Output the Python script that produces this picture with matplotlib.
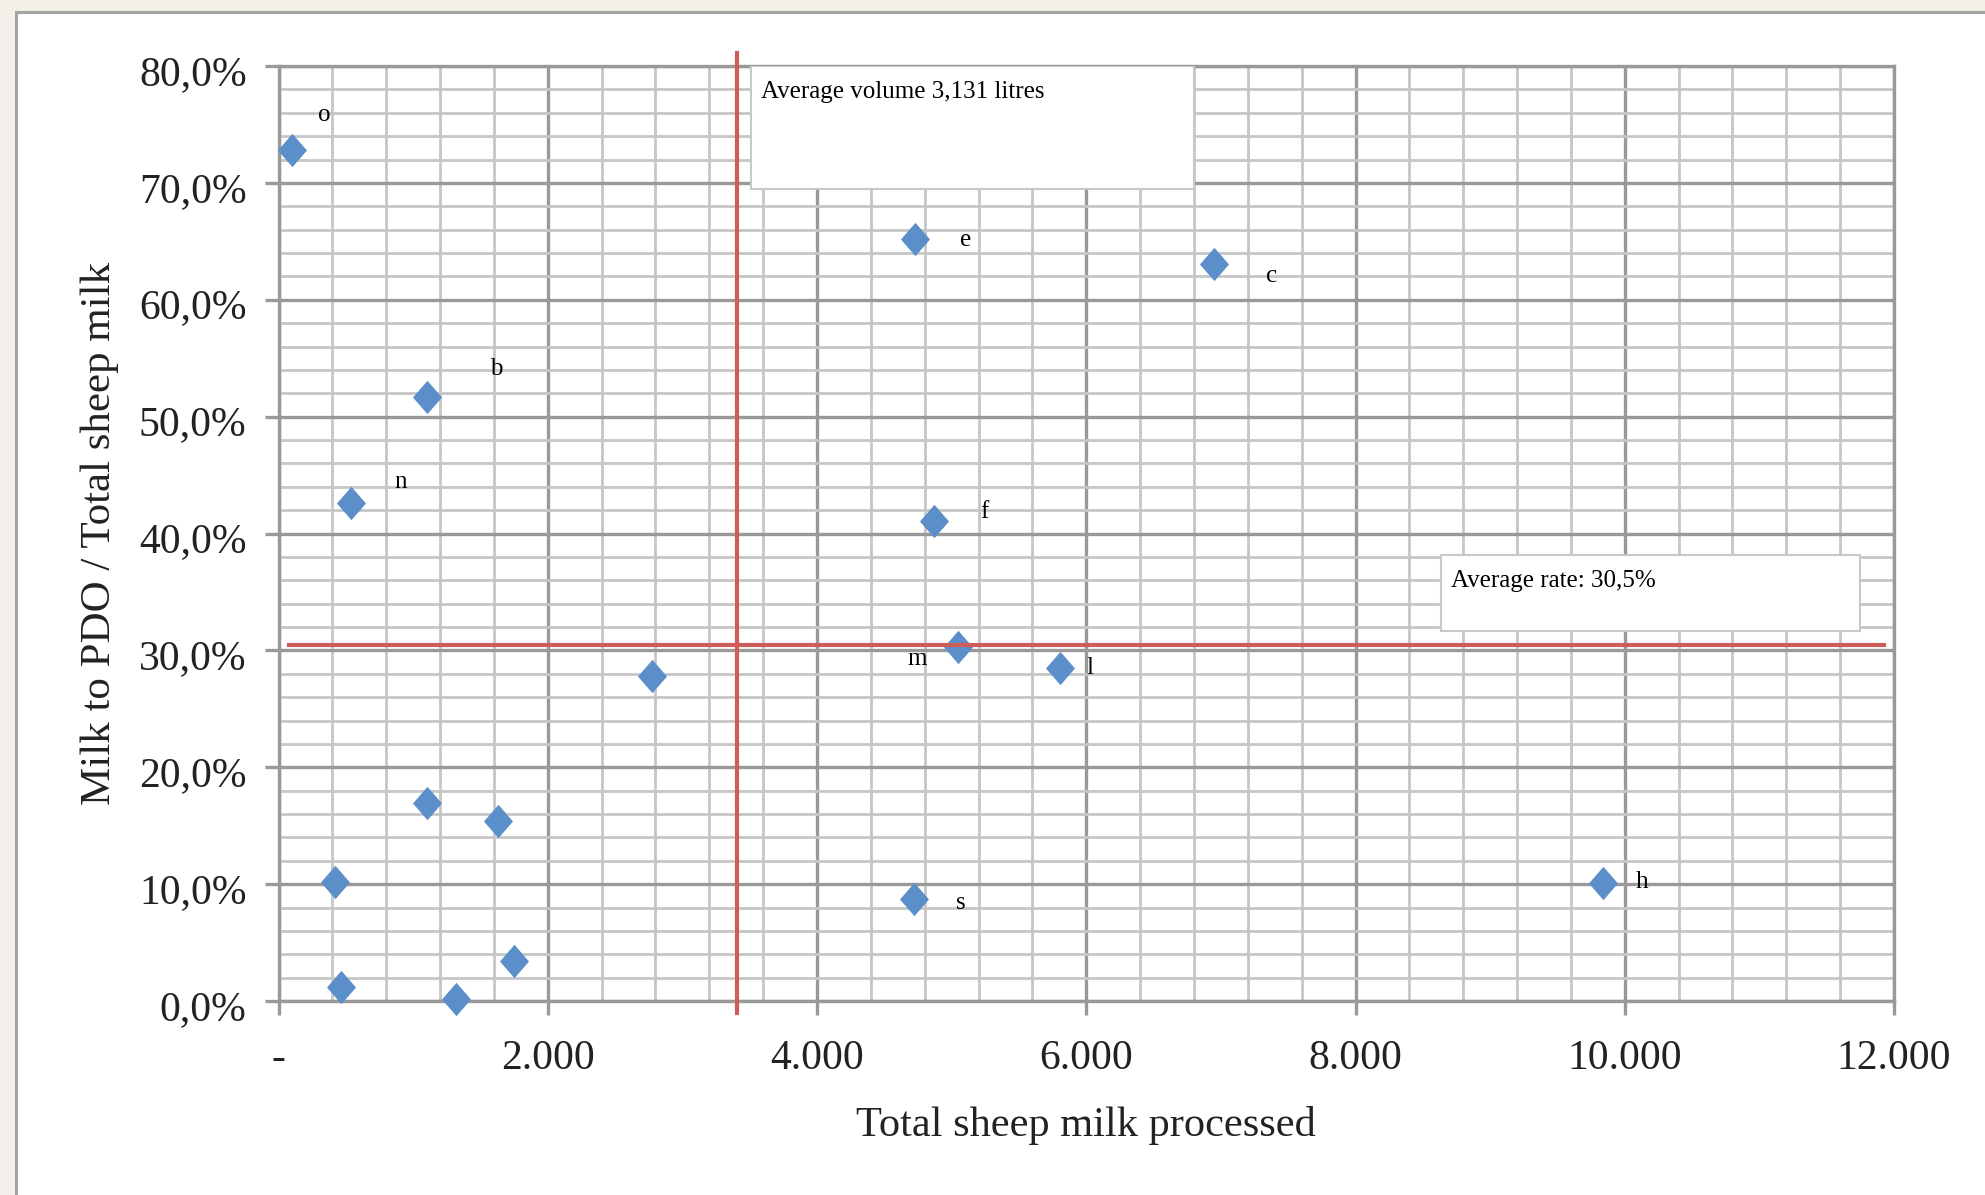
import numpy as np
import matplotlib
matplotlib.use("Agg")
from matplotlib import pyplot as plt
from matplotlib.patches import Rectangle
from matplotlib.transforms import ScaledTranslation

# Data
milk_total = [103, 4730, 6950, 1100, 536, 4872, 5045, 5802, 2774,
              1100, 1627, 423, 4721, 9836, 1753, 461, 1322]
pdo_share = [72.8, 65.2, 63.1, 51.7, 42.6, 41.1, 30.3, 28.5, 27.8,
             16.9, 15.4, 10.2, 8.7, 10.1, 3.4, 1.2, 0.2]
point_labels = ['o', 'e', 'c', 'b', 'n', 'f', 'm', 'l', '',
                '', '', '', 's', 'h', '', '', '']

avg_volume_x = 3405
avg_rate = 30.5
avg_volume_text = "Average volume 3,131 litres"
avg_rate_text = "Average rate: 30,5%"

x_ticks = [0, 2000, 4000, 6000, 8000, 10000, 12000]
x_ticklabels = ['-', '2.000', '4.000', '6.000', '8.000', '10.000', '12.000']
y_ticks = [0, 10, 20, 30, 40, 50, 60, 70, 80]
y_ticklabels = ['0,0%', '10,0%', '20,0%', '30,0%', '40,0%', '50,0%', '60,0%', '70,0%', '80,0%']

# label offsets in points (layout only)
label_offsets = {'o': (23, 25), 'e': (36, -1), 'c': (41, -9), 'b': (50, 20),
                 'n': (36, 15), 'f': (36, 6), 'm': (-29, -9), 'l': (22, 0),
                 's': (34, -3), 'h': (28, 1)}

SERIF = 'Liberation Serif'
MAJOR = '#999999'
MINOR = '#c6c6c6'
RED = '#cd5c5a'
BLUE = '#5a8fca'

fig = plt.figure(figsize=(19.85, 11.95), dpi=100)
fig.patch.set_facecolor('#f3f0ea')

# white panel with grey frame
panel = Rectangle((16 / 1985, -0.05), 1.1, 1 - 12 / 1195 + 0.05,
                  transform=fig.transFigure, facecolor='white',
                  edgecolor='#a3a3a3', lw=2.2, zorder=-5)
fig.patches.append(panel)

ax = fig.add_axes([278.5 / 1985, 1 - 1001 / 1195, (1894 - 278.5) / 1985, (1001 - 66) / 1195])
ax.set_zorder(2)
ax.set_facecolor('white')

ax.set_xlim(0, 12000)
ax.set_ylim(0, 80)
ax.set_xticks(x_ticks)
ax.set_xticklabels(x_ticklabels)
ax.set_yticks(y_ticks)
ax.set_yticklabels(y_ticklabels)
ax.set_xticks(np.arange(0, 12001, 400), minor=True)
ax.set_yticks(np.arange(0, 81, 2), minor=True)

ax.set_axisbelow(True)
ax.grid(which='minor', color=MINOR, lw=2.0)
ax.grid(which='major', color=MAJOR, lw=2.4)
for sp in ax.spines.values():
    sp.set_color(MAJOR)
    sp.set_linewidth(2.4)

ax.tick_params(which='major', direction='out', length=10, width=2.4, color=MAJOR,
               labelsize=30)
ax.tick_params(axis='x', which='major', pad=18)
ax.tick_params(axis='y', which='major', pad=13)
ax.tick_params(which='minor', length=0)
shift_down = ScaledTranslation(0, -4 / 100, fig.dpi_scale_trans)
for lab in ax.get_xticklabels() + ax.get_yticklabels():
    lab.set_fontfamily(SERIF)
    lab.set_color('#222222')
for lab in ax.get_yticklabels():
    lab.set_transform(lab.get_transform() + shift_down)

ax.set_xlabel("Total sheep milk processed", fontsize=30.5, family=SERIF, color='#222222', labelpad=20)
ax.set_ylabel("Milk to PDO / Total sheep milk", fontsize=31, family=SERIF, color='#222222', labelpad=14)

# average lines
ax.plot([avg_volume_x, avg_volume_x], [-1.0, 81.1], color=RED, lw=3, zorder=5, clip_on=False)
ax.plot([75, 11925], [avg_rate, avg_rate], color=RED, lw=3, zorder=5)

# annotation boxes
ax.add_patch(Rectangle((3508, 69.5), 3292, 10.5, facecolor='white', edgecolor='#c8c8c8',
                       lw=1.5, zorder=3))
ax.text(3583, 77.8, avg_volume_text, fontsize=18, family=SERIF, va='center', ha='left', zorder=6)
ax.add_patch(Rectangle((8633, 31.7), 3113, 6.5, facecolor='white', edgecolor='#c8c8c8',
                       lw=1.5, zorder=3))
ax.text(8709, 35.9, avg_rate_text, fontsize=18, family=SERIF, va='center', ha='left', zorder=6)

# scatter with slightly tall diamonds
diamond = [(0, 1), (0.87, 0), (0, -1), (-0.87, 0), (0, 1)]
ax.plot(milk_total, pdo_share, linestyle='none', marker=diamond, markersize=24,
        color=BLUE, markeredgewidth=0, zorder=4, clip_on=False)

for xv, yv, lab in zip(milk_total, pdo_share, point_labels):
    if not lab:
        continue
    ax.annotate(lab, (xv, yv), xytext=label_offsets[lab], textcoords='offset points',
                ha='center', va='center', fontsize=18, family=SERIF, color='black', zorder=6)

fig.savefig('out.png', dpi=100, facecolor=fig.get_facecolor())
